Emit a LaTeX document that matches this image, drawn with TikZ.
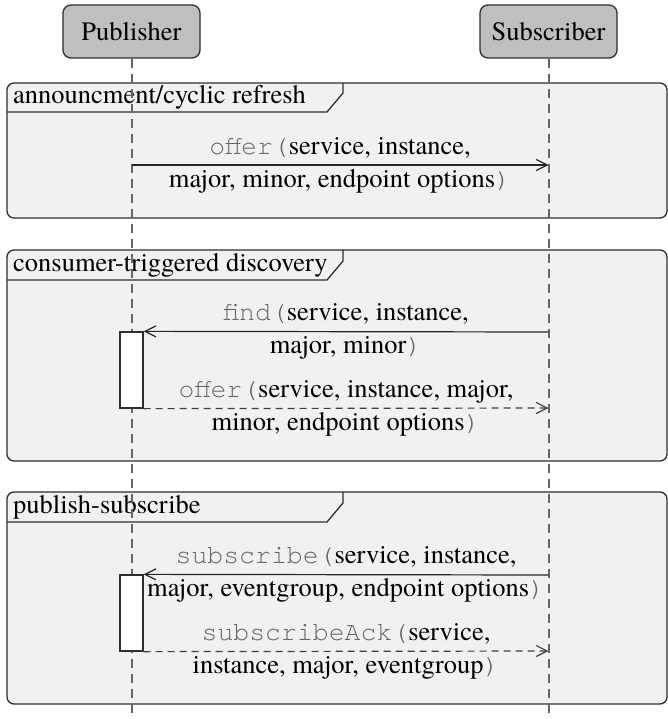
\documentclass[tikz,border=0pt]{standalone}
\usepackage{fontspec}
\setmainfont{texgyretermes}[Extension=.otf, UprightFont=*-regular, BoldFont=*-bold, ItalicFont=*-italic, BoldItalicFont=*-bolditalic]
\setmonofont{texgyrecursor}[Extension=.otf, UprightFont=*-regular, BoldFont=*-bold, ItalicFont=*-italic, BoldItalicFont=*-bolditalic]
\usetikzlibrary{arrows.meta}
\definecolor{actorfill}{gray}{0.75}
\definecolor{framefill}{gray}{0.945}
\definecolor{framedraw}{gray}{0.18}
\definecolor{lifegray}{gray}{0.4}
\definecolor{fngray}{gray}{0.4}
\newcommand{\fnc}[1]{{\ttfamily\color{fngray}#1}}
\tikzset{
  actor/.style={draw=framedraw, fill=actorfill, rounded corners=8pt, minimum width=137pt, minimum height=53pt, inner sep=0pt, line width=1.3pt},
  sdframe/.style={draw=framedraw, fill=framefill, rounded corners=7pt, line width=1.3pt},
  tabline/.style={draw=framedraw, line width=1.3pt},
  tablabel/.style={anchor=west, inner sep=0pt},
  lifeline/.style={draw=lifegray, line width=2pt, dash pattern=on 9pt off 6pt},
  actbox/.style={draw=framedraw, fill=white, minimum width=23pt, minimum height=76pt, inner sep=0pt, line width=1.3pt},
  msg/.style={draw=black!85, line width=1.2pt, -{Straight Barb[length=11pt,width=11pt]}},
  reply/.style={msg, draw=black!75, dash pattern=on 7pt off 5pt},
  lbl/.style={align=center, inner sep=0pt}
}
\begin{document}
\begin{tikzpicture}[x=1pt, y=-1pt, font=\fontsize{26.5}{33}\selectfont]
\useasboundingbox (0,0) rectangle (668,719);

% frames
\draw[sdframe] (7,83) rectangle (667,218);
\draw[tabline] (7,112) -- (327,112) -- (343,93) -- (343,83);
\node[tablabel] (f1) at (13,97) {announcment/cyclic refresh};

\draw[sdframe] (7,250) rectangle (667,461);
\draw[tabline] (7,280) -- (327,280) -- (343,261) -- (343,250);
\node[tablabel] (f2) at (13,265) {consumer-triggered discovery};

\draw[sdframe] (7,492) rectangle (667,704);
\draw[tabline] (7,522) -- (327,522) -- (343,503) -- (343,492);
\node[tablabel] (f3) at (13,507) {publish-subscribe};

% actors
\node[actor] (pub) at (131.5,31.5) {Publisher};
\node[actor] (sub) at (548.5,31.5) {Subscriber};
\coordinate (pubend) at (131.5,719);
\coordinate (subend) at (548.5,719);

% lifelines
\draw[lifeline] (pub.south) -- (pubend);
\draw[lifeline] (sub.south) -- (subend);

% activation boxes
\node[actbox] (act1) at (131.5,370) {};
\node[actbox] (act2) at (131.5,613) {};

% message coordinates
\coordinate (p1) at (131.5,165);
\coordinate (s1) at (548.5,165);
\coordinate (s2) at (548.5,332);
\coordinate (s3) at (548.5,408);
\coordinate (s4) at (548.5,575);
\coordinate (s5) at (548.5,651);

% messages
\draw[msg] (p1) -- (s1) node[lbl, midway] (m1) {\fnc{offer(}service, instance,\\major, minor, endpoint options\fnc{)}};
\draw[msg] (s2) -- (act1.north east) node[lbl, midway] (m2) {\fnc{find(}service, instance,\\major, minor\fnc{)}};
\draw[reply] (act1.south east) -- (s3) node[lbl, midway] (m3) {\fnc{offer(}service, instance, major,\\minor, endpoint options\fnc{)}};
\draw[msg] (s4) -- (act2.north east) node[lbl, midway] (m4) {\fnc{subscribe(}service, instance,\\major, eventgroup, endpoint options\fnc{)}};
\draw[reply] (act2.south east) -- (s5) node[lbl, midway] (m5) {\fnc{subscribeAck(}service,\\instance, major, eventgroup\fnc{)}};
\end{tikzpicture}
\end{document}
